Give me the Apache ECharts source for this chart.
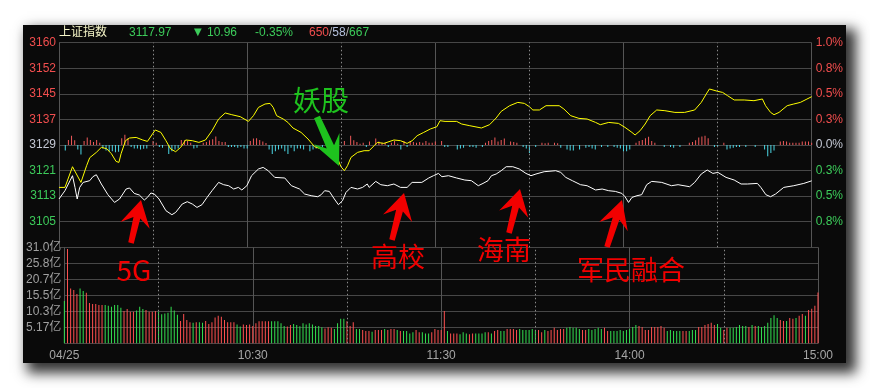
<!DOCTYPE html>
<html><head><meta charset="utf-8">
<script src="https://cdn.jsdelivr.net/npm/echarts/dist/echarts.min.js"></script>
<style>
html,body{margin:0;padding:0;background:#fff;width:870px;height:388px;overflow:hidden;}
#panel{position:absolute;left:23px;top:25px;width:823px;height:338px;background:#0a0a0a;overflow:hidden;box-shadow:7px 7px 12px 3px rgba(0,0,0,0.8);}
#chart{width:823px;height:338px;}
</style></head><body>
<div id="panel"><div id="chart"></div></div>
<script>
const OX = 23, OY = 25;
const prevClose = 3128.93;
const stepPts = prevClose * 0.0025;

const xTickLabels = ['04/25', '10:30', '11:30', '14:00', '15:00'];
const dottedTicks = [30, 90, 150, 210];
const priceTickLabels = ['', '3105', '3113', '3121', '3129', '3137', '3145', '3152', '3160'];
const pctTickLabels = ['', '0.8%', '0.5%', '0.3%', '0.0%', '0.3%', '0.5%', '0.8%', '1.0%'];
const volTickLabels = ['', '5.17亿', '10.3亿', '15.5亿', '20.7亿', '25.8亿', '31.0亿'];
const volStep = 5.17;

// white line: 上证指数 (minute, price)
const whiteLine = [[0,3112.41],[1.9,3114.95],[3.5,3117.99],[4.3,3119.54],[5.1,3115.96],[5.8,3112.41],[6.6,3115.96],[7.7,3117.49],[9.8,3118.01],[10.8,3119.23],[11.9,3119.84],[13.5,3117.00],[15.6,3113.73],[17.7,3111.37],[19.3,3112.41],[21.4,3115.47],[22.5,3115.78],[24.0,3114.12],[25.6,3113.64],[27.2,3112.11],[28.2,3112.90],[29.3,3114.25],[30.4,3113.94],[31.9,3112.41],[34.1,3108.83],[36.0,3107.61],[37.2,3108.31],[39.3,3110.88],[40.9,3111.59],[42.5,3110.88],[44.0,3109.84],[45.6,3110.67],[47.2,3112.90],[48.8,3114.95],[50.9,3117.49],[52.5,3116.79],[54.1,3116.48],[55.7,3115.47],[57.2,3115.96],[58.3,3115.17],[59.9,3116.48],[61.4,3119.54],[63.6,3121.59],[65.1,3122.08],[66.7,3121.07],[68.8,3119.02],[72.0,3118.84],[74.1,3116.48],[76.7,3115.47],[78.3,3113.94],[80.4,3113.42],[82.5,3113.11],[83.6,3113.73],[84.7,3114.95],[86.2,3114.74],[87.8,3112.41],[89.1,3110.67],[90.4,3111.89],[91.5,3114.43],[93.1,3115.96],[95.2,3115.47],[96.8,3115.96],[98.3,3117.00],[98.9,3115.96],[101.0,3117.80],[102.6,3116.79],[104.7,3116.48],[106.8,3117.00],[108.9,3115.96],[111.0,3115.96],[112.6,3117.49],[115.7,3117.49],[117.9,3118.84],[119.4,3119.54],[121.0,3120.24],[122.1,3119.23],[124.2,3119.54],[126.8,3118.84],[129.4,3118.22],[131.5,3118.01],[133.7,3116.48],[135.2,3117.18],[136.8,3118.01],[137.9,3119.54],[139.4,3120.06],[141.0,3121.07],[142.6,3122.29],[144.7,3122.29],[146.8,3121.59],[148.9,3120.24],[150.5,3119.54],[152.1,3120.06],[154.7,3120.76],[158.4,3121.07],[160.0,3120.55],[161.6,3119.02],[163.7,3118.01],[166.3,3116.79],[168.4,3116.48],[171.1,3115.17],[173.2,3115.47],[175.3,3114.95],[177.4,3114.74],[179.5,3114.12],[180.5,3113.11],[181.6,3111.37],[182.7,3112.90],[184.3,3113.42],[185.8,3113.73],[187.4,3116.79],[189.0,3117.80],[192.2,3117.49],[195.3,3116.48],[197.4,3116.79],[201.1,3116.17],[202.7,3117.49],[204.8,3120.06],[206.7,3121.28],[208.5,3120.24],[210.1,3120.55],[212.7,3119.02],[215.3,3118.22],[217.5,3117.00],[219.5,3117.00],[222.7,3117.18],[223.8,3115.96],[225.4,3113.73],[226.9,3113.11],[228.5,3113.94],[231.1,3115.96],[234.3,3116.48],[237.5,3117.18],[240,3117.97]];

// yellow line: unweighted index (minute, price)
const yellowLine = [[0,3115.96],[1.9,3115.96],[4.3,3122.29],[7.0,3117.49],[8.8,3122.60],[9.8,3125.05],[11.9,3126.67],[13.5,3128.20],[15.2,3127.80],[16.7,3126.27],[18.2,3123.91],[19.1,3123.61],[19.8,3126.27],[21.2,3130.25],[22.5,3131.07],[24.6,3131.25],[26.7,3130.46],[28.2,3130.03],[29.8,3132.29],[30.7,3133.52],[32.5,3132.78],[34.1,3130.25],[35.6,3127.71],[37.2,3126.88],[38.8,3128.20],[40.4,3130.46],[42.5,3130.25],[44.6,3129.73],[46.7,3130.46],[48.8,3133.30],[50.9,3136.88],[53.0,3138.72],[55.1,3138.20],[57.8,3137.59],[60.4,3136.15],[62.0,3137.89],[63.6,3140.43],[65.7,3141.47],[67.3,3141.66],[68.3,3140.43],[69.4,3137.89],[71.5,3136.88],[73.0,3135.84],[74.6,3134.13],[77.2,3132.78],[79.4,3130.77],[81.5,3128.41],[83.6,3127.71],[86.7,3126.67],[88.9,3124.65],[89.9,3122.29],[91.0,3121.07],[92.0,3122.60],[93.1,3125.14],[95.2,3126.67],[97.3,3127.19],[98.9,3127.19],[100.5,3128.72],[101.5,3129.73],[103.6,3129.42],[106.8,3130.46],[108.9,3130.25],[111.0,3129.42],[112.6,3130.25],[114.2,3131.77],[116.3,3132.78],[118.4,3133.82],[120.5,3134.53],[121.5,3136.36],[123.1,3136.15],[126.8,3136.15],[128.4,3135.35],[131.0,3134.83],[134.7,3134.13],[137.3,3135.14],[139.4,3137.19],[141.0,3139.21],[143.7,3140.95],[146.3,3141.96],[148.4,3141.66],[150.0,3140.65],[151.1,3139.64],[153.2,3139.64],[155.3,3140.95],[159.5,3140.95],[161.0,3139.94],[163.2,3137.89],[165.8,3137.07],[168.4,3136.88],[171.1,3135.84],[172.6,3135.14],[175.3,3135.84],[178.4,3135.54],[180.5,3134.31],[182.7,3132.78],[183.7,3131.99],[185.3,3133.30],[186.9,3135.35],[188.5,3137.89],[190.6,3139.64],[193.2,3139.42],[196.4,3138.90],[199.5,3138.90],[202.7,3139.64],[204.8,3141.96],[206.4,3144.53],[207.4,3146.06],[210.1,3145.33],[211.6,3145.02],[213.2,3144.01],[215.3,3142.70],[218.5,3142.70],[221.6,3142.48],[224.3,3143.00],[225.3,3140.95],[226.9,3138.90],[228.0,3138.20],[229.6,3138.90],[232.2,3140.95],[234.3,3141.47],[236.4,3141.96],[238.5,3142.98],[240,3143.71]];

// buy/sell strength bars around the 0% line (minute, strength)
const strengthBars = [[2,-5.3],[3,5],[4,9],[5,4.7],[6,-4.3],[7,-9.3],[8,4],[9,7.3],[10,5],[11,3],[12,5],[13,2.3],[14,-3.3],[15,-5.3],[16,-6],[17,-6],[18,-7],[19,-6.7],[20,6.7],[21,10],[22,6.7],[23,-2],[24,-3.3],[25,-3.3],[26,-4.3],[27,-3.7],[28,-3.3],[30,4],[31,2.3],[32,-2],[33,-2.7],[35,-8.7],[36,-6],[37,-4.3],[38,-3.3],[39,5],[40,4.7],[41,4],[42,2.3],[43,-3.3],[44,-2.7],[46,2.3],[47,3],[48,4.7],[49,5.7],[50,8.3],[51,4],[52,3],[53,3],[54,-2],[55,-2],[56,-2],[57,-2.7],[58,-2],[59,-3.3],[60,-3.3],[61,4],[62,6.3],[63,6.7],[64,5],[65,3.3],[66,2],[67,-4.3],[68,-8.7],[69,-6],[70,-4.3],[71,-3.3],[72,-6],[73,-8.7],[74,-2.7],[75,-6],[76,-3.3],[77,-3.3],[78,-4.3],[80,-6],[81,-4.3],[82,-3.3],[84,-2],[87,-2.7],[88,-6],[89,-11],[91,4],[93,9],[94,4.7],[95,3],[96,1.3],[97,2.3],[98,-2],[99,3.3],[101,6.3],[102,3.3],[103,2.3],[104,2.3],[105,-2],[106,2.3],[107,4],[108,1.3],[109,-4.3],[110,4],[111,-2],[112,4],[113,3],[114,2.3],[115,3],[116,2.3],[117,4],[118,2.3],[119,2.3],[120,3.3],[122,4],[123,-2],[124,-2],[127,-4.3],[128,-3.3],[129,-2.7],[131,-2],[132,-2],[133,-2.7],[135,-2],[136,2.3],[137,4],[138,5],[139,7.3],[140,3.3],[141,5],[142,6.3],[144,3.3],[145,3],[146,2.3],[148,-2],[149,-3.3],[150,-7.7],[152,-2],[154,2.3],[155,1.7],[156,2.3],[158,2.3],[159,1.7],[160,-2.7],[162,-4.3],[163,-5.3],[164,-5.3],[166,-4.3],[168,-2.7],[169,-2],[170,-3.3],[171,-4.3],[173,-2],[175,-2],[177,-2],[178,-2.7],[179,-3.3],[180,-6],[181,-6],[182,-4.3],[184,2.3],[185,4],[186,5],[187,6.7],[188,8],[189,4],[190,2.3],[193,-2],[195,-2],[196,-2.7],[198,-2],[201,2.3],[202,3],[203,4.7],[204,7.3],[205,8.3],[206,9],[207,6.7],[209,-2],[210,-2],[212,2.3],[213,-4.3],[214,-3.3],[215,-2.7],[216,-2],[217,-2],[219,-2],[222,-2],[225,-4.3],[226,-11],[227,-7.7],[228,-5.3],[230,3.3],[231,4],[232,3.3],[233,2.3],[234,2.3],[235,2.3],[236,2.3],[237,3.3],[238,3.3],[239,3.3],[240,2.3]];

// per-minute volume (亿), minute 0..240
const volume = [
13.7,30.5,17.7,17.2,15.9,17.7,16.9,16.3,13.0,12.7,
12.7,12.4,12.4,12.4,12.1,11.8,12.4,12.4,11.5,10.4,
11.1,10.2,10.2,10.6,11.8,11.1,10.8,10.2,10.2,10.4,
10.2,9.4,9.6,9.9,11.8,10.6,9.2,7.2,9.5,7.5,
6.8,6.6,6.8,6.8,6.6,7.2,6.2,6.8,8.3,8.9,
8.6,7.5,6.8,6.8,6.8,6.1,5.4,6.1,5.9,6.1,
5.6,6.5,7.1,7.1,7.1,7.1,7.1,7.1,7.1,6.5,
5.6,5.4,5.9,6.2,5.9,5.5,6.5,6.1,6.5,6.1,
5.6,5.6,5.2,4.8,5.2,5.0,4.6,6.5,7.9,7.9,
7.1,5.6,6.8,4.6,4.6,4.3,4.0,4.0,3.7,4.3,
4.3,4.3,4.6,4.3,4.6,4.6,4.3,4.0,4.0,4.0,
3.2,3.6,4.3,3.6,3.6,3.2,3.2,3.6,4.6,4.3,
4.3,10.4,4.0,3.2,3.2,3.2,2.9,3.6,3.2,2.9,
3.2,3.2,3.2,3.2,3.6,3.6,3.2,4.0,4.3,4.0,
4.0,4.6,4.6,4.6,4.3,4.6,4.3,4.3,4.3,4.6,
4.3,4.3,3.6,4.3,4.0,4.3,5.0,4.3,4.6,4.6,
5.0,5.3,5.0,5.0,4.6,4.3,4.3,4.6,4.3,4.6,
5.0,4.6,5.0,4.0,4.0,4.0,4.0,4.3,4.0,4.3,
4.6,5.3,5.9,5.6,5.3,4.3,4.3,5.3,5.3,5.3,
5.6,5.0,4.0,4.3,4.0,4.0,4.0,4.0,4.0,4.0,
4.3,4.3,5.3,5.3,5.9,6.2,6.6,5.9,6.2,5.0,
4.3,5.0,5.0,5.0,5.3,5.9,5.6,5.6,5.3,5.9,
5.6,5.6,5.3,5.6,6.6,8.2,9.1,8.2,7.5,7.2,
7.2,8.2,7.9,8.2,8.9,9.5,8.9,10.8,11.2,12.1,16.4];
// 1 = up minute (red), 0 = down minute (green)
const volumeUp = [
0,1,1,1,1,0,0,1,1,1, 1,1,1,0,0,0,0,0,0,1, 1,1,1,0,0,0,1,1,1,1, 0,0,0,0,0,0,0,1,1,1,
1,0,1,0,0,1,1,1,1,1, 1,1,1,1,1,0,0,1,1,1, 1,1,1,1,1,1,0,0,0,0, 0,1,1,0,0,0,0,0,0,0,
0,0,0,1,1,1,0,0,0,0, 1,1,1,0,0,1,1,1,0,1, 1,1,0,1,1,1,0,1,0,0, 0,0,1,1,0,0,0,1,1,1,
1,1,0,1,1,1,0,0,0,1, 1,0,0,0,0,1,0,1,1,0, 0,1,1,1,1,0,0,0,0,0, 0,1,1,0,1,1,1,1,1,1,
0,0,0,0,0,1,1,0,0,0, 0,0,1,1,0,0,0,0,0,0, 0,0,0,1,1,1,1,1,1,1, 1,1,0,0,0,0,0,1,1,0,
0,0,1,1,1,1,1,1,0,0, 1,1,0,0,0,0,0,0,1,0, 1,0,0,0,0,0,0,0,1,1, 0,1,1,0,1,1,0,1,1,1,1];

const RED = '#f24e4e', GREEN = '#3ccb5a', MID = '#c4c8d4';
const VOL_RED = '#ff5050', VOL_GREEN = '#33e050';
const STR_RED = '#f05a5a', STR_CYAN = '#4cd8e6';
const GRID_C = '#474747';

const toStep = p => (p - prevClose) / stepPts;
const tickColor = v => { const s = Math.round(Number(v)); return s > 0 ? RED : (s < 0 ? GREEN : MID); };

const chart = echarts.init(document.getElementById('chart'), null, {renderer: 'canvas'});

function arrow(tail, tip, L, W, sw, color) {
  const dx = tail[0] - tip[0], dy = tail[1] - tip[1];
  const len = Math.hypot(dx, dy), ux = dx / len, uy = dy / len, nx = -uy, ny = ux;
  const P = (a, b) => [tip[0] + ux * a + nx * b - OX, tip[1] + uy * a + ny * b - OY];
  return {type: 'polygon', z: 100, silent: true,
    shape: {points: [P(0, 0), P(L, W), P(L * 0.7, sw / 2), P(len, sw * 0.4), P(len, -sw * 0.4), P(L * 0.7, -sw / 2), P(L, -W)]},
    style: {fill: color}};
}
function label(text, cx, cy, color, size) {
  return {type: 'text', z: 101, silent: true, x: cx - OX, y: cy - OY,
    style: {text: text, fill: color, font: size + 'px "Noto Sans CJK SC", sans-serif',
      textAlign: 'center', textVerticalAlign: 'middle', align: 'center', verticalAlign: 'middle'}};
}
function head(text, x, color) {
  return {type: 'text', z: 101, silent: true, x: x - OX, y: 32.5 - OY,
    style: {text: text, fill: color, font: '12px "Liberation Sans", "Noto Sans CJK SC", sans-serif',
      textAlign: 'left', textVerticalAlign: 'middle', align: 'left', verticalAlign: 'middle'}};
}

const ARROW_RED = '#f20000', ARROW_GREEN = '#1ec21e';

const option = {
  backgroundColor: 'transparent',
  animation: false,
  grid: [
    {left: 36, top: 17.7, width: 759, height: 204.6},
    {left: 36, top: 222.3, width: 759, height: 96}
  ],
  xAxis: [
    {type: 'value', gridIndex: 0, min: 0, max: 240, interval: 60,
      axisLine: {show: false}, axisTick: {show: false}, axisLabel: {show: false},
      splitLine: {show: true, lineStyle: {color: '#555', width: 1}}},
    {type: 'value', gridIndex: 1, min: 0, max: 240, interval: 60,
      axisLine: {show: false}, axisTick: {show: false},
      axisLabel: {show: true, showMinLabel: true, showMaxLabel: true, color: '#a6a6a6', fontSize: 12, margin: 6,
        fontFamily: '"Liberation Sans", Arial, sans-serif',
        formatter: v => xTickLabels[Math.round(v / 60)]},
      splitLine: {show: true, lineStyle: {color: '#555', width: 1}}}
  ],
  yAxis: [
    {type: 'value', gridIndex: 0, position: 'left', min: -4, max: 4, interval: 1,
      axisLine: {show: false}, axisTick: {show: false},
      axisLabel: {margin: 3, fontSize: 12, fontFamily: '"Liberation Sans", Arial, sans-serif',
        formatter: v => priceTickLabels[Math.round(v) + 4], color: tickColor},
      splitLine: {show: true, lineStyle: {color: GRID_C, width: 1}}},
    {type: 'value', gridIndex: 0, position: 'right', min: -4, max: 4, interval: 1,
      axisLine: {show: false}, axisTick: {show: false},
      axisLabel: {margin: 4, fontSize: 12, fontFamily: '"Liberation Sans", Arial, sans-serif',
        formatter: v => pctTickLabels[Math.round(v) + 4], color: tickColor},
      splitLine: {show: false}},
    {type: 'value', gridIndex: 0, min: -100, max: 100, show: false, splitLine: {show: false}},
    {type: 'value', gridIndex: 1, position: 'left', min: 0, max: 6, interval: 1,
      axisLine: {show: false}, axisTick: {show: false},
      axisLabel: {margin: 3, fontSize: 12, color: '#a0a0a0', fontFamily: '"Liberation Sans", "Noto Sans CJK SC", sans-serif',
        formatter: v => volTickLabels[Math.round(v)]},
      splitLine: {show: true, lineStyle: {color: GRID_C, width: 1}}}
  ],
  series: [
    {type: 'bar', name: 'strength', xAxisIndex: 0, yAxisIndex: 2, barWidth: 1, z: 2,
      data: strengthBars.map(d => [d[0], d[1]]),
      itemStyle: {color: p => p.value[1] >= 0 ? STR_RED : STR_CYAN},
      markLine: {silent: true, symbol: 'none', label: {show: false},
        lineStyle: {type: [1.5, 2.5], color: '#8a8a8a', width: 1},
        data: dottedTicks.map(t => ({xAxis: t}))}},
    {type: 'line', name: 'yellow', xAxisIndex: 0, yAxisIndex: 0, z: 4,
      data: yellowLine.map(d => [d[0], toStep(d[1])]), showSymbol: false, symbol: 'none',
      lineStyle: {color: '#ffff00', width: 1}},
    {type: 'line', name: 'white', xAxisIndex: 0, yAxisIndex: 0, z: 5,
      data: whiteLine.map(d => [d[0], toStep(d[1])]), showSymbol: false, symbol: 'none',
      lineStyle: {color: '#ffffff', width: 1}},
    {type: 'bar', name: 'volume', xAxisIndex: 1, yAxisIndex: 3, barWidth: 1, z: 3,
      data: volume.map((v, i) => [i, v / volStep]),
      itemStyle: {color: p => volumeUp[p.dataIndex] ? VOL_RED : VOL_GREEN},
      markLine: {silent: true, symbol: 'none', label: {show: false},
        lineStyle: {type: [1.5, 2.5], color: '#8a8a8a', width: 1},
        data: dottedTicks.map(t => ({xAxis: t}))}}
  ],
  graphic: [
    head('上证指数', 59, '#f6f6c8'),
    head('3117.97', 129, GREEN),
    {type: 'text', z: 101, silent: true, x: 194 - OX, y: 32.5 - OY,
      style: {text: '▼', fill: GREEN, font: '10px "DejaVu Sans", sans-serif', textVerticalAlign: 'middle', verticalAlign: 'middle'}},
    head('10.96', 207, GREEN),
    head('-0.35%', 255, GREEN),
    {type: 'text', z: 101, silent: true, x: 309 - OX, y: 32.5 - OY,
      style: {text: '{r|650}{s|/}{b|58}{s|/}{g|667}', font: '12px "Liberation Sans", sans-serif',
        textVerticalAlign: 'middle', verticalAlign: 'middle',
        rich: {r: {fill: RED, color: RED, fontSize: 12}, s: {fill: '#b0b0b0', color: '#b0b0b0', fontSize: 12},
          b: {fill: '#b4c0dc', color: '#b4c0dc', fontSize: 12}, g: {fill: GREEN, color: GREEN, fontSize: 12}}}},
    arrow([131, 243], [141, 200], 26, 15, 7, ARROW_RED),
    arrow([392, 240], [404, 193], 26, 15, 7, ARROW_RED),
    arrow([509, 233], [520, 189], 26, 15, 7, ARROW_RED),
    arrow([607, 247], [622, 200], 28, 15, 7, ARROW_RED),
    arrow([317, 117], [339, 166], 30, 14, 8, ARROW_GREEN),
    label('5G', 134, 270, ARROW_RED, 28),
    label('高校', 398, 257, ARROW_RED, 27),
    label('海南', 504, 250, ARROW_RED, 27),
    label('军民融合', 631, 270, ARROW_RED, 27),
    label('妖股', 321, 100, ARROW_GREEN, 28)
  ]
};
chart.setOption(option);
</script></body></html>
